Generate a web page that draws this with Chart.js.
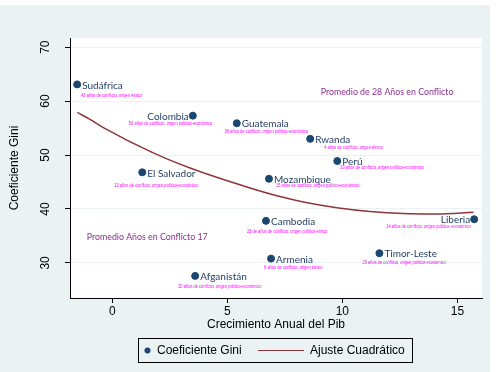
<!DOCTYPE html>
<html>
<head>
<meta charset="utf-8">
<script src="https://cdn.jsdelivr.net/npm/chart.js@4.4.0/dist/chart.umd.min.js"></script>
<style>
  html, body { margin: 0; padding: 0; background: #ffffff; }
  canvas { display: block; }
</style>
</head>
<body>
<canvas id="giniChart" width="497" height="372"></canvas>
<script>
// datos
const countries = ['Sudáfrica', 'Colombia', 'Guatemala', 'Rwanda', 'Perú', 'Mozambique',
    'El Salvador', 'Cambodia', 'Liberia', 'Timor-Leste', 'Armenia', 'Afganistán'];
const growth = [-1.53, 3.5, 5.41, 8.6, 9.78, 6.81, 1.3, 6.68, 15.73, 11.61, 6.9, 3.6];
const gini = [63.1, 57.3, 55.9, 53.0, 48.9, 45.6, 46.8, 37.8, 38.1, 31.8, 30.8, 27.6];
const notes = [
    '43 años de conflicto, origen étnico',
    '50 años de conflicto, origen político-económico',
    '36 años de conflicto, origen político-económico',
    '4 años de conflicto, origen étnico',
    '20 años de conflicto, origen político-económico',
    '15 años de conflicto, origen político-económico',
    '12 años de conflicto, origen político-económico',
    '23 de años de conflicto, origen político-étnico',
    '14 años de conflicto, origen político- económico',
    '26 años de conflicto, origen político-económico',
    '6 años de conflicto, origen étnico',
    '20 años de conflicto, origen político-económico'
];

// ajuste cuadratico
const fitX = [-1.52, -0.97, -0.39, 1.78, 3.38, 5.99, 7.29, 8.3, 9.76, 11.2, 12.65, 14.1, 15.7];
const fitY = [57.9, 56.6, 55.1, 50.4, 47.6, 43.9, 42.3, 41.3, 40.25, 39.55, 39.15, 39.07, 39.4];

const xTicks = [0, 5, 10, 15];
const yTicks = [30, 40, 50, 60, 70];

const avgTexts = ['Promedio de 28 Años en Conflicto', 'Promedio Años en Conflicto 17'];
const avgX = [9.06, -1.11];
const avgY = [61.67, 34.87];

// layout of the text labels, in pixels from the dot
const labelSide = [1, -1, 1, 1, 1, 1, 1, 1, -1, 1, 1, 1];
const noteDx = [4, -64, -12, 14, 3, 7, -28, -19, -88, -17, -7, -17];
const noteDy = [11, 8, 8, 9, 7, 7, 13, 11, 7, 9, 9, 11];

const BG = '#eaf2f3';
const NAVY = '#1a476f';
const MAROON = '#90353b';
const LABEL_FONT = '10px Lato';

const bgPlugin = {
    id: 'bg',
    beforeDraw(chart) {
        const c = chart.ctx, a = chart.chartArea;
        c.save();
        c.fillStyle = BG;
        c.fillRect(0, 5, 490, chart.height - 5);
        c.fillStyle = '#ffffff';
        c.fillRect(a.left, a.top, a.right - a.left, a.bottom - a.top);
        c.restore();
    }
};

const textPlugin = {
    id: 'texts',
    afterDatasetsDraw(chart) {
        const c = chart.ctx;
        const xs = chart.scales.x, ys = chart.scales.y;
        c.save();
        c.textBaseline = 'middle';
        for (let i = 0; i < countries.length; i++) {
            const px = xs.getPixelForValue(growth[i]);
            const py = ys.getPixelForValue(gini[i]);
            c.font = LABEL_FONT;
            c.fillStyle = '#1e3a5f';
            if (labelSide[i] > 0) {
                c.textAlign = 'left';
                c.fillText(countries[i], px + 5, py + 1);
            } else {
                c.textAlign = 'right';
                c.fillText(countries[i], px - 4, py + 1);
            }
            c.font = '5px "Liberation Sans"';
            c.fillStyle = '#ff00ff';
            c.textAlign = 'left';
            const w = c.measureText(notes[i]).width * 0.8;
            c.fillText(notes[i], px + noteDx[i], py + noteDy[i], w);
        }
        c.font = LABEL_FONT;
        c.fillStyle = '#8a2f8f';
        c.textAlign = 'left';
        for (let i = 0; i < avgTexts.length; i++) {
            const w = c.measureText(avgTexts[i]).width * 0.88;
            c.fillText(avgTexts[i], xs.getPixelForValue(avgX[i]), ys.getPixelForValue(avgY[i]), w);
        }
        // y tick labels, rotated like the original
        c.font = '12px "Liberation Sans"';
        c.fillStyle = '#000000';
        c.textAlign = 'center';
        yTicks.forEach(v => {
            c.save();
            c.translate(46, ys.getPixelForValue(v));
            c.rotate(-Math.PI / 2);
            c.fillText(String(v), 0, 0);
            c.restore();
        });
        c.restore();
    }
};

const legendPlugin = {
    id: 'ownLegend',
    afterDraw(chart) {
        const c = chart.ctx;
        c.save();
        c.strokeStyle = '#000000';
        c.lineWidth = 1;
        c.strokeRect(138.5, 338.5, 274, 24);
        c.fillStyle = NAVY;
        c.beginPath();
        c.arc(147.5, 350.5, 3, 0, Math.PI * 2);
        c.fill();
        c.strokeStyle = MAROON;
        c.beginPath();
        c.moveTo(258, 350.5);
        c.lineTo(304, 350.5);
        c.stroke();
        c.font = '12px "Liberation Sans"';
        c.fillStyle = '#000000';
        c.textBaseline = 'middle';
        c.fillText('Coeficiente Gini', 157, 351);
        c.fillText('Ajuste Cuadrático', 310, 351);
        c.restore();
    }
};

const ctx = document.getElementById('giniChart').getContext('2d');
const chart = new Chart(ctx, {
    type: 'scatter',
    data: {
        datasets: [{
            label: 'Ajuste Cuadrático',
            data: fitX.map((x, i) => ({ x: x, y: fitY[i] })),
            showLine: true,
            borderColor: MAROON,
            borderWidth: 1.5,
            pointRadius: 0,
            cubicInterpolationMode: 'monotone'
        }, {
            label: 'Coeficiente Gini',
            data: growth.map((x, i) => ({ x: x, y: gini[i] })),
            backgroundColor: NAVY,
            borderColor: NAVY,
            pointRadius: 3.5,
            clip: false
        }]
    },
    options: {
        responsive: false,
        animation: false,
        devicePixelRatio: 1,
        layout: { padding: { left: 0, top: 38, right: 15, bottom: 40 } },
        plugins: {
            legend: { display: false },
            tooltip: { enabled: false }
        },
        scales: {
            x: {
                type: 'linear',
                min: -1.84,
                max: 16.07,
                afterBuildTicks: s => { s.ticks = xTicks.map(v => ({ value: v })); },
                afterFit: s => { s.height = 34; },
                grid: { drawOnChartArea: false, tickLength: 5, tickColor: '#000000' },
                border: { color: '#000000', width: 1 },
                ticks: {
                    color: '#000000',
                    padding: 3,
                    maxRotation: 0,
                    font: { family: 'Liberation Sans', size: 12, lineHeight: 1 }
                },
                title: {
                    display: true,
                    text: 'Crecimiento Anual del Pib',
                    color: '#000000',
                    padding: 0,
                    font: { family: 'Liberation Sans', size: 12 }
                }
            },
            y: {
                type: 'linear',
                min: 23.5,
                max: 71.7,
                afterBuildTicks: s => { s.ticks = yTicks.map(v => ({ value: v })); },
                afterFit: s => { s.width = 70; },
                grid: { color: BG, tickLength: 5, tickColor: '#000000' },
                border: { color: '#000000', width: 1 },
                ticks: { color: 'rgba(0,0,0,0)', font: { size: 12 } },
                title: {
                    display: true,
                    text: 'Coeficiente Gini',
                    color: '#000000',
                    padding: { top: 7, bottom: 0 },
                    font: { family: 'Liberation Sans', size: 12 }
                }
            }
        }
    },
    plugins: [bgPlugin, textPlugin, legendPlugin]
});
</script>
</body>
</html>
